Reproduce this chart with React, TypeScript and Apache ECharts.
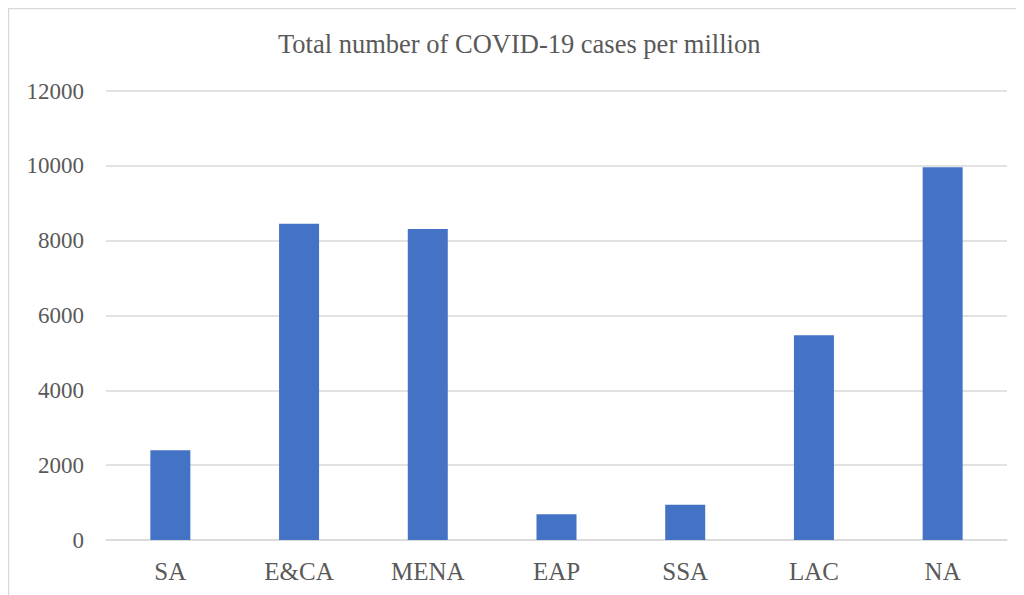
import React, { useEffect, useRef } from "react";
import * as echarts from "echarts";

const categories = ["SA", "E&CA", "MENA", "EAP", "SSA", "LAC", "NA"];
const casesPerMillion = [2400, 8450, 8310, 690, 940, 5470, 9960];
const titleText = "Total number of COVID-19 cases per million";

export default function App() {
  const ref = useRef<HTMLDivElement>(null);
  useEffect(() => {
    if (!ref.current) return;
    const chart = echarts.init(ref.current, undefined, { renderer: "svg" });
    const font = "'Liberation Serif', 'Times New Roman', serif";
    chart.setOption({
      animation: false,
      title: {
        text: titleText,
        left: 265,
        top: 17,
        textStyle: { fontFamily: font, fontSize: 26.5, fontWeight: "normal", color: "#595959" },
      },
      graphic: [
        { type: "line", shape: { x1: 0.5, y1: 0, x2: 0.5, y2: 600 }, style: { stroke: "#d9d9d9", lineWidth: 1.5 } },
        { type: "line", shape: { x1: 0, y1: 0.5, x2: 1100, y2: 0.5 }, style: { stroke: "#d9d9d9", lineWidth: 1.5 } },
      ],
      grid: { left: 98, top: 83, width: 901, height: 449, containLabel: false },
      xAxis: {
        type: "category",
        data: categories,
        axisLine: { lineStyle: { color: "#d9d9d9", width: 1.5 } },
        axisTick: { show: false },
        axisLabel: { fontFamily: font, fontSize: 25, color: "#595959", margin: 19 },
      },
      yAxis: {
        type: "value",
        min: 0,
        max: 12000,
        interval: 2000,
        axisLine: { show: false },
        axisTick: { show: false },
        splitLine: { lineStyle: { color: "#d9d9d9", width: 1.5 } },
        axisLabel: {
          fontFamily: font,
          fontSize: 23,
          color: "#595959",
          margin: 22,
          formatter: (v: number) => String(v),
        },
      },
      series: [
        {
          type: "bar",
          data: casesPerMillion,
          barWidth: 40,
          itemStyle: { color: "#4472C4" },
        },
      ],
    });
    return () => chart.dispose();
  }, []);
  return <div ref={ref} style={{ width: 1016, height: 587 }} />;
}
